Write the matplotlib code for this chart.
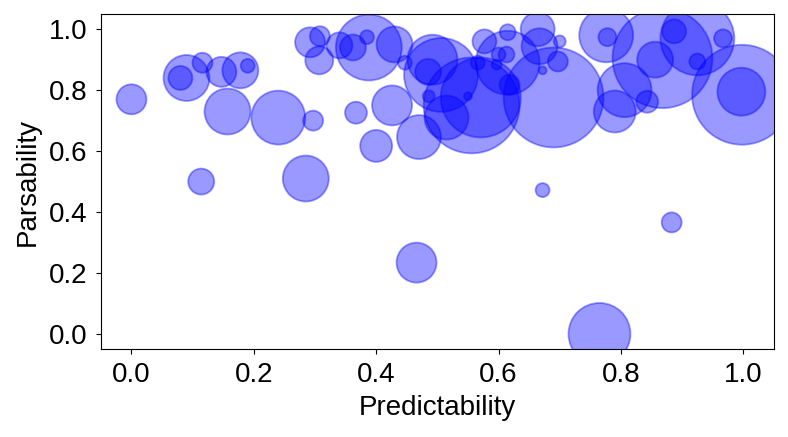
import matplotlib
matplotlib.use("Agg")
import matplotlib.pyplot as plt

plt.rcParams['font.family'] = ['Liberation Sans', 'DejaVu Sans']

# bubble data
predictability = [0.0, 0.09, 0.08, 0.116, 0.147, 0.178, 0.19, 0.157, 0.24, 0.297,
                  0.114, 0.285, 0.367, 0.426, 0.40, 0.47, 0.466, 0.292, 0.308, 0.307,
                  0.34, 0.362, 0.388, 0.385, 0.43, 0.447, 0.485, 0.492, 0.506, 0.486,
                  0.515, 0.556, 0.571, 0.55, 0.577, 0.615, 0.664, 0.667, 0.615, 0.60,
                  0.613, 0.597, 0.618, 0.69, 0.697, 0.672, 0.70, 0.566, 0.776, 0.778,
                  0.868, 0.856, 0.887, 0.925, 0.925, 0.967, 0.998, 0.997, 0.806, 0.79,
                  0.843, 0.883, 0.672, 0.765]
parsability = [0.77, 0.84, 0.84, 0.89, 0.86, 0.865, 0.88, 0.73, 0.71, 0.70,
               0.50, 0.51, 0.726, 0.75, 0.617, 0.646, 0.234, 0.957, 0.977, 0.898,
               0.947, 0.94, 0.94, 0.974, 0.95, 0.89, 0.86, 0.90, 0.85, 0.78,
               0.71, 0.75, 0.776, 0.78, 0.96, 0.99, 1.0, 0.944, 0.89, 0.917,
               0.917, 0.884, 0.818, 0.776, 0.894, 0.865, 0.96, 0.89, 0.98, 0.974,
               0.905, 0.90, 0.993, 0.97, 0.894, 0.97, 0.785, 0.795, 0.80, 0.73,
               0.762, 0.366, 0.472, 0.0]
sizes = [466, 1095, 298, 207, 466, 671, 101, 1095, 1509, 207,
         350, 1095, 250, 828, 530, 1002, 828, 466, 207, 406,
         350, 350, 2254, 101, 671, 101, 350, 1294, 2834, 75,
         1002, 4769, 3312, 33, 298, 132, 598, 671, 2120, 101,
         132, 52, 207, 5175, 207, 33, 75, 101, 1509, 168,
         5175, 671, 298, 2834, 132, 168, 5175, 1192, 1509, 913,
         250, 207, 101, 1989]

fig = plt.figure(figsize=(7.88, 4.37), dpi=100)
ax = fig.add_axes([0.128, 0.201, 0.854, 0.767])
ax.scatter(predictability, parsability, s=sizes, c='blue', alpha=0.4,
           edgecolors='blue', linewidths=1.3)
ax.set_xlim(-0.05, 1.05)
ax.set_ylim(-0.05, 1.05)
ax.set_xticks([0.0, 0.2, 0.4, 0.6, 0.8, 1.0])
ax.set_yticks([0.0, 0.2, 0.4, 0.6, 0.8, 1.0])
ax.tick_params(labelsize=20, pad=6)
ax.set_xlabel("Predictability", fontsize=20, labelpad=5)
ax.set_ylabel("Parsability", fontsize=20, labelpad=6)

fig.savefig("out.png", dpi=100)
